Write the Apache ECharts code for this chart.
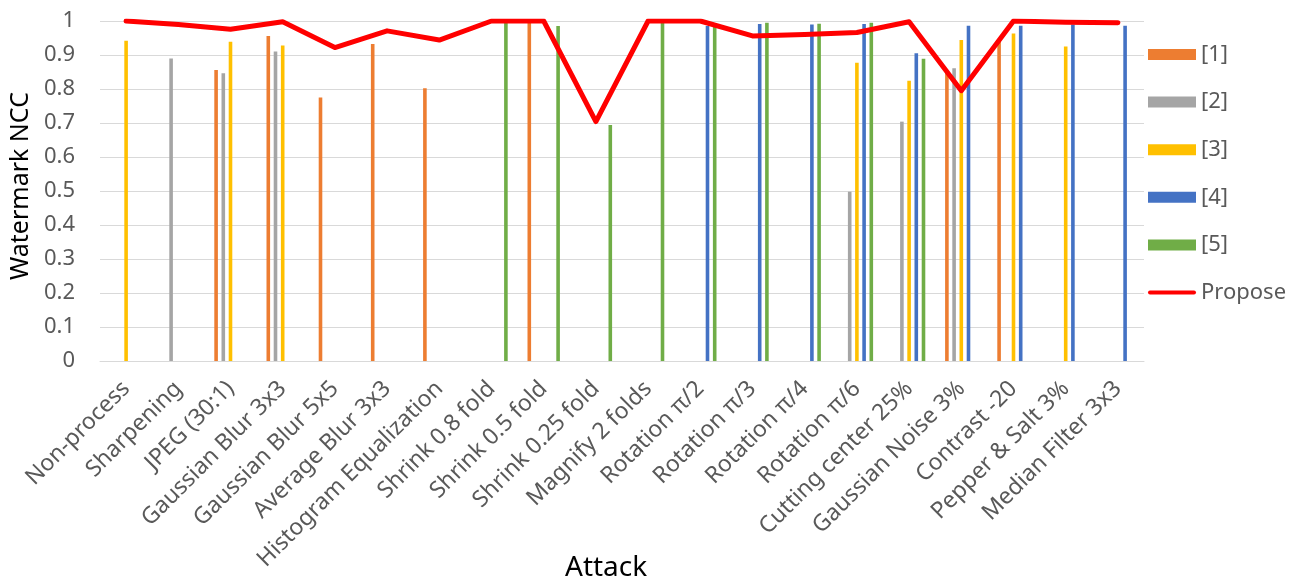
<!DOCTYPE html>
<html>
<head>
<meta charset="utf-8">
<script src="https://cdn.jsdelivr.net/npm/echarts@6/dist/echarts.min.js"></script>
<style>
  html, body { margin: 0; padding: 0; background: #ffffff; }
  #chart { width: 1303px; height: 582px; }
</style>
</head>
<body>
<div id="chart"></div>
<script>
// Attack categories along the x axis
const categories = [
  'Non-process', 'Sharpening', 'JPEG (30:1)', 'Gaussian Blur 3x3', 'Gaussian Blur 5x5',
  'Average Blur 3x3', 'Histogram Equalization', 'Shrink 0.8 fold', 'Shrink 0.5 fold',
  'Shrink 0.25 fold', 'Magnify 2 folds', 'Rotation π/2', 'Rotation π/3', 'Rotation π/4',
  'Rotation π/6', 'Cutting center 25%', 'Gaussian Noise 3%', 'Contrast -20',
  'Pepper & Salt 3%', 'Median Filter 3x3'
];

// NCC of the compared methods (null = not reported)
const ref1 = [null, null, 0.856, 0.956, 0.775, 0.932, 0.802, null, 1.0, null,
              null, null, null, null, null, null, 0.848, 0.94, null, null];
const ref2 = [null, 0.89, 0.846, 0.91, null, null, null, null, null, null,
              null, null, null, null, 0.498, 0.704, 0.861, null, null, null];
const ref3 = [0.942, null, 0.939, 0.928, null, null, null, null, null, null,
              null, null, null, null, 0.877, 0.824, 0.944, 0.963, 0.925, null];
const ref4 = [null, null, null, null, null, null, null, null, null, null,
              null, 0.985, 0.991, 0.99, 0.991, 0.905, 0.986, 0.986, 0.99, 0.986];
const ref5 = [null, null, null, null, null, null, null, 1.0, 0.985, 0.694,
              1.0, 0.985, 0.995, 0.992, 0.995, 0.889, null, null, null, null];

// NCC of the proposed method
const propose = [1.0, 0.99, 0.976, 0.998, 0.922, 0.971, 0.944, 1.0, 1.0, 0.704,
                 1.0, 1.0, 0.956, 0.96, 0.966, 0.998, 0.795, 1.0, 0.996, 0.995];

const seriesNames = ['[1]', '[2]', '[3]', '[4]', '[5]'];
const seriesData = [ref1, ref2, ref3, ref4, ref5];
const colors = ['#ED7D31', '#A5A5A5', '#FFC000', '#4472C4', '#70AD47'];

const FONT = '"Noto Sans", "Open Sans", sans-serif';

// Rounded bar used as the legend swatch of the line series
const LINE_ICON = 'path://M2.5,0 H57.5 A2.5,2.5 0 0 1 57.5,5 H2.5 A2.5,2.5 0 0 1 2.5,0 Z';

const barSeries = seriesNames.map((name, i) => ({
  name: name,
  type: 'bar',
  data: seriesData[i],
  barWidth: 3.6,
  barGap: '100%',
  itemStyle: { color: colors[i] },
  z: 2
}));

const chart = echarts.init(document.getElementById('chart'), null, { renderer: 'canvas' });

chart.setOption({
  animation: false,
  backgroundColor: '#ffffff',
  textStyle: { fontFamily: FONT },
  // x axis title, placed under the rotated category labels
  title: {
    text: 'Attack',
    left: 565,
    top: 554,
    padding: 0,
    textStyle: { fontSize: 28, fontWeight: 'normal', color: '#000000', fontFamily: FONT }
  },
  grid: { left: 100, right: 159, top: 21, bottom: 221, containLabel: false, outerBoundsMode: 'none' },
  legend: {
    orient: 'vertical',
    left: 1143,
    top: 38.5,
    itemWidth: 48,
    itemHeight: 11,
    itemGap: 25.6,
    symbolKeepAspect: true,
    textStyle: { fontSize: 22, color: '#595959', fontFamily: FONT, lineHeight: 22 },
    data: [
      { name: '[1]', icon: 'rect' },
      { name: '[2]', icon: 'rect' },
      { name: '[3]', icon: 'rect' },
      { name: '[4]', icon: 'rect' },
      { name: '[5]', icon: 'rect' },
      { name: 'Propose', icon: LINE_ICON, itemStyle: { color: '#FF0000' } }
    ]
  },
  xAxis: {
    type: 'category',
    data: categories,
    boundaryGap: true,
    axisLine: { show: true, lineStyle: { color: '#d9d9d9', width: 1 } },
    axisTick: { show: false },
    axisLabel: {
      interval: 0,
      rotate: 45,
      margin: 24,
      fontSize: 23,
      color: '#595959',
      fontFamily: FONT
    },
    splitLine: { show: false }
  },
  yAxis: {
    type: 'value',
    min: 0,
    max: 1,
    interval: 0.1,
    name: 'Watermark NCC',
    nameLocation: 'middle',
    nameGap: 66,
    nameTextStyle: { fontSize: 25, color: '#000000', fontFamily: FONT, padding: [0, 0, 0, 10] },
    axisLine: { show: false },
    axisTick: { show: false },
    axisLabel: { fontSize: 22, color: '#595959', margin: 25, fontFamily: FONT },
    splitLine: { show: true, lineStyle: { color: '#d9d9d9', width: 1 } }
  },
  series: barSeries.concat([{
    name: 'Propose',
    type: 'line',
    data: propose,
    symbol: 'none',
    z: 5,
    lineStyle: { color: '#FF0000', width: 5, cap: 'round', join: 'round' },
    itemStyle: { color: '#FF0000' }
  }])
});
</script>
</body>
</html>
